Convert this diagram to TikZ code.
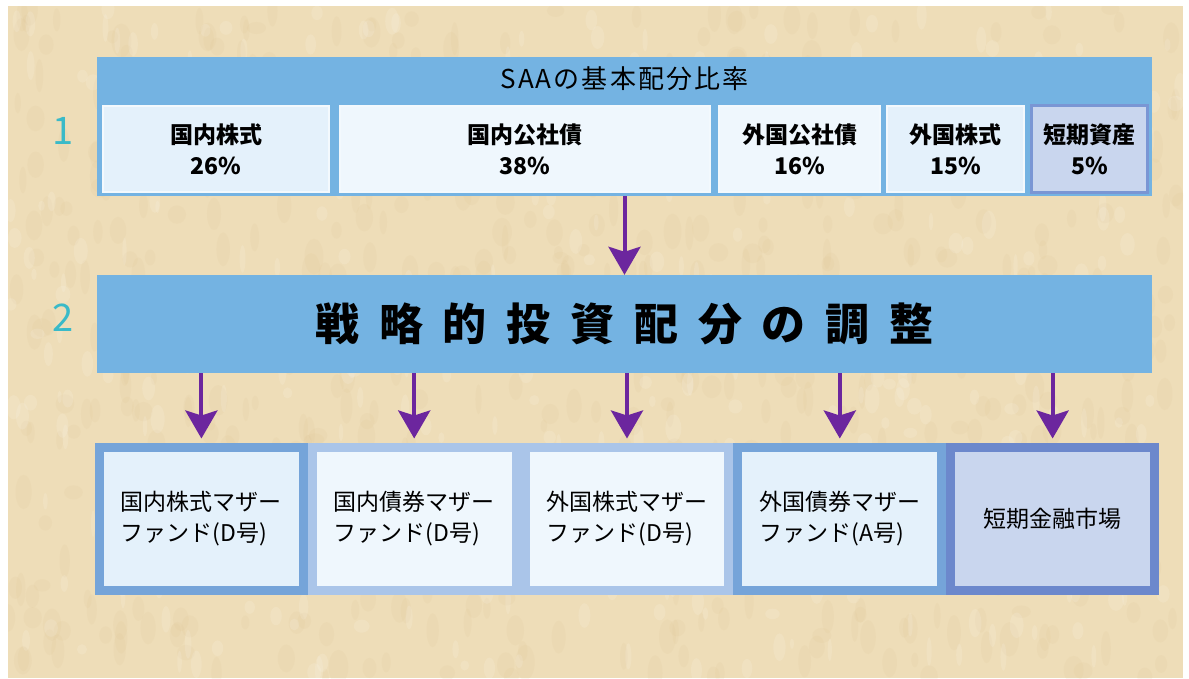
\documentclass[tikz,border=0pt]{standalone}
\usepackage{fontspec}
\setmainfont{Noto Sans CJK JP}
\usepackage{xcolor}
\usepackage{tikz}
\usetikzlibrary{positioning,calc,arrows.meta}

\definecolor{paper}{RGB}{238,221,184}
\definecolor{paperdark}{RGB}{218,190,138}
\definecolor{panelblue}{RGB}{116,179,226}
\definecolor{numteal}{RGB}{58,186,200}
\definecolor{flowpurple}{RGB}{108,38,158}
\definecolor{cellpale}{RGB}{228,241,251}
\definecolor{cellwhite}{RGB}{239,247,253}
\definecolor{cellshort}{RGB}{201,214,238}
\definecolor{edgeshort}{RGB}{122,150,212}
\definecolor{edgemid}{RGB}{117,164,217}
\definecolor{edgelight}{RGB}{170,197,233}
\definecolor{edgedeep}{RGB}{108,136,204}

\begin{document}
\begin{tikzpicture}[x=1pt, y=-1pt,
    panel/.style={fill=panelblue, inner sep=0pt},
    cell/.style={draw=white!55!cellpale, line width=1.5pt, inner sep=0pt, minimum height=86pt, align=center, font=\fontsize{23}{31}\selectfont\bfseries},
    fund/.style={line width=9pt, minimum width=203.8pt, minimum height=143pt, inner sep=0pt, align=left, font=\fontsize{23}{31}\selectfont},
    step no/.style={text=numteal, font=\fontsize{38}{38}\selectfont},
    flow/.style={draw=flowpurple, line width=4pt, -{Stealth[length=28pt, width=32pt, inset=5pt]}}
]
    % paper
    \fill [white] (0,0) rectangle (1189,678);
    \fill [paper] (8,6) rectangle (1183,678);
    \pgfmathsetseed{11}
    \begin{scope}
        \clip (8,6) rectangle (1183,678);
        \foreach \k in {1,...,700} {
            \fill [paperdark, opacity=0.1] ({8+rnd*1175},{6+rnd*672}) ellipse ({3+rnd*7} and {6+rnd*12});
        }
        \foreach \k in {1,...,400} {
            \fill [white, opacity=0.12] ({8+rnd*1175},{6+rnd*672}) ellipse ({2+rnd*6} and {5+rnd*10});
        }
    \end{scope}

    % 1: SAA
    \node [panel, minimum width=1055pt, minimum height=139pt] (saa) at (624.5,126.5) {};
    \node [font=\fontsize{26}{26}\selectfont\addfontfeature{LetterSpace=8}] (title) at ([yshift=-22pt]saa.north) {SAAの基本配分比率};
    \node [step no] (n1) at (63,131) {1};

    \foreach \i/\x/\w/\label/\pct/\col in {1/216/226/国内株式/26/cellpale, 2/525/370/国内公社債/38/cellwhite, 3/799.5/161/外国公社債/16/cellwhite, 4/955.5/137/外国株式/15/cellpale, 5/1089.5/115/短期資産/5/cellshort} {
        \node [cell, fill=\col, minimum width=\w pt] (c\i) at (\x,149) {\label\\\pct\%};
    }
    \draw [edgeshort, line width=3pt] (c5.north west) rectangle (c5.south east);

    % 2: adjustment
    \node [panel, minimum width=1055pt, minimum height=98pt, font=\fontsize{44}{44}\selectfont\bfseries\addfontfeature{LetterSpace=45}] (adj) at (624.5,324) {戦略的投資配分の調整};
    \node [step no] (n2) at (63,318) {2};
    \draw [flow] (saa.south) -- (adj.north);

    % mother funds
    \foreach \i/\txt/\edge/\col in {1/{国内株式マザー\\ファンド(D号)}/edgemid/cellpale, 2/{国内債券マザー\\ファンド(D号)}/edgelight/cellwhite, 3/{外国株式マザー\\ファンド(D号)}/edgelight/cellwhite, 4/{外国債券マザー\\ファンド(A号)}/edgemid/cellpale, 5/{短期金融市場}/edgedeep/cellshort} {
        \node [fund, draw=\edge, fill=\col] (f\i) at ({95+212.8*(\i-0.5)},519) {\txt};
        \draw [flow] (adj.south -| f\i.north) -- ([yshift=4.5pt]f\i.north);
    }
\end{tikzpicture}
\end{document}
